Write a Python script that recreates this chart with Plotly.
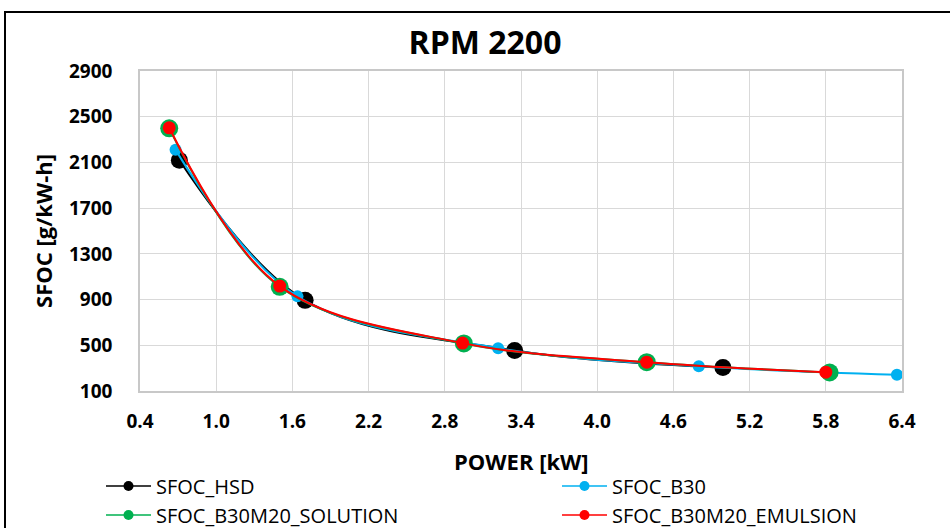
import plotly.graph_objects as go

# ---- data ----
hsd_x = [0.71, 1.70, 3.35, 4.99]
hsd_y = [2120, 893, 455, 306]

b30_x = [0.68, 1.64, 3.22, 4.80, 6.36]
b30_y = [2210, 928, 475, 317, 242]

sol_x = [0.63, 1.50, 2.95, 4.39, 5.83]
sol_y = [2398, 1012, 516, 352, 262]

emu_x = [0.63, 1.50, 2.94, 4.39, 5.80]
emu_y = [2403, 1018, 519, 352, 265]

x_ticks = [0.4, 1.0, 1.6, 2.2, 2.8, 3.4, 4.0, 4.6, 5.2, 5.8, 6.4]
y_ticks = [100, 500, 900, 1300, 1700, 2100, 2500, 2900]

W, H = 950, 528
L, R, T, B = 140, 48, 71, 137

series = [
    ("SFOC_HSD", hsd_x, hsd_y, "#000000", 17, "legend"),
    ("SFOC_B30", b30_x, b30_y, "#00B0F0", 12, "legend2"),
    ("SFOC_B30M20_SOLUTION", sol_x, sol_y, "#00B050", 18, "legend3"),
    ("SFOC_B30M20_EMULSION", emu_x, emu_y, "#FF0000", 13, "legend4"),
]

fig = go.Figure()
for name, xs, ys, col, ms, lg in series:
    fig.add_trace(go.Scatter(
        x=xs, y=ys, name=name, mode="lines+markers",
        line=dict(color=col, width=2, shape="spline", smoothing=1.0),
        marker=dict(color=col, size=ms),
        showlegend=False,
    ))
# legend entries (small symbols like the reference legend)
for name, xs, ys, col, ms, lg in series:
    fig.add_trace(go.Scatter(
        x=[None], y=[None], name=name, mode="lines+markers",
        line=dict(color=col, width=1.5),
        marker=dict(color=col, size=10),
        legend=lg, showlegend=True,
    ))

FONT = "Open Sans"

def leg(px, py):
    return dict(
        x=px / W, y=1 - py / H, xref="container", yref="container",
        xanchor="left", yanchor="middle", orientation="h",
        bgcolor="rgba(0,0,0,0)", borderwidth=0,
        font=dict(family=FONT, size=20, color="#000000"),
        itemwidth=45,
    )

fig.update_layout(
    width=W, height=H,
    margin=dict(l=L, r=R, t=T, b=B, autoexpand=False),
    paper_bgcolor="#FFFFFF", plot_bgcolor="#FFFFFF",
    title=dict(text="<b>RPM 2200</b>", x=485 / W, xref="container",
               y=1 - 42.5 / H, yref="container", xanchor="center", yanchor="middle",
               font=dict(family=FONT, size=32, color="#000000")),
    xaxis=dict(range=[0.4, 6.4], tickvals=x_ticks,
               ticktext=[f"<b>{v:.1f}</b>" for v in x_ticks],
               showgrid=True, gridcolor="#D9D9D9", gridwidth=1.3,
               showline=True, linecolor="#C8C8C8", linewidth=1.5, mirror=True,
               zeroline=False, ticks="", ticklabelstandoff=12,
               tickfont=dict(family=FONT, size=19, color="#000000")),
    yaxis=dict(range=[100, 2900], tickvals=y_ticks,
               ticktext=[f"<b>{v}</b>" for v in y_ticks],
               showgrid=True, gridcolor="#D9D9D9", gridwidth=1.3,
               showline=True, linecolor="#C8C8C8", linewidth=1.5, mirror=True,
               zeroline=False, ticks="", ticklabelstandoff=22,
               tickfont=dict(family=FONT, size=19, color="#000000"),
               title=dict(text="<b>SFOC [g/kW-h]</b>", standoff=10,
                          font=dict(family=FONT, size=22, color="#000000"))),
    legend=leg(101, 486),
    legend2=leg(557, 486),
    legend3=leg(101, 515),
    legend4=leg(557, 515),
    showlegend=True,
    annotations=[dict(text="<b>POWER [kW]</b>", xref="paper", yref="paper",
                      x=0.5, y=-(461 - (H - B)) / (H - T - B),
                      xanchor="center", yanchor="middle", showarrow=False,
                      font=dict(family=FONT, size=22, color="#000000"))],
)

# outer chart border (cut off at right and bottom like the reference)
pw, ph = W - L - R, H - T - B
fig.add_shape(type="rect", xref="paper", yref="paper",
              x0=(5 - L) / pw, x1=(960 - L) / pw,
              y0=(H - B - 540) / ph, y1=(H - B - 12) / ph,
              line=dict(color="#000000", width=2), fillcolor="rgba(0,0,0,0)",
              layer="below")

fig.write_html("out.html")
